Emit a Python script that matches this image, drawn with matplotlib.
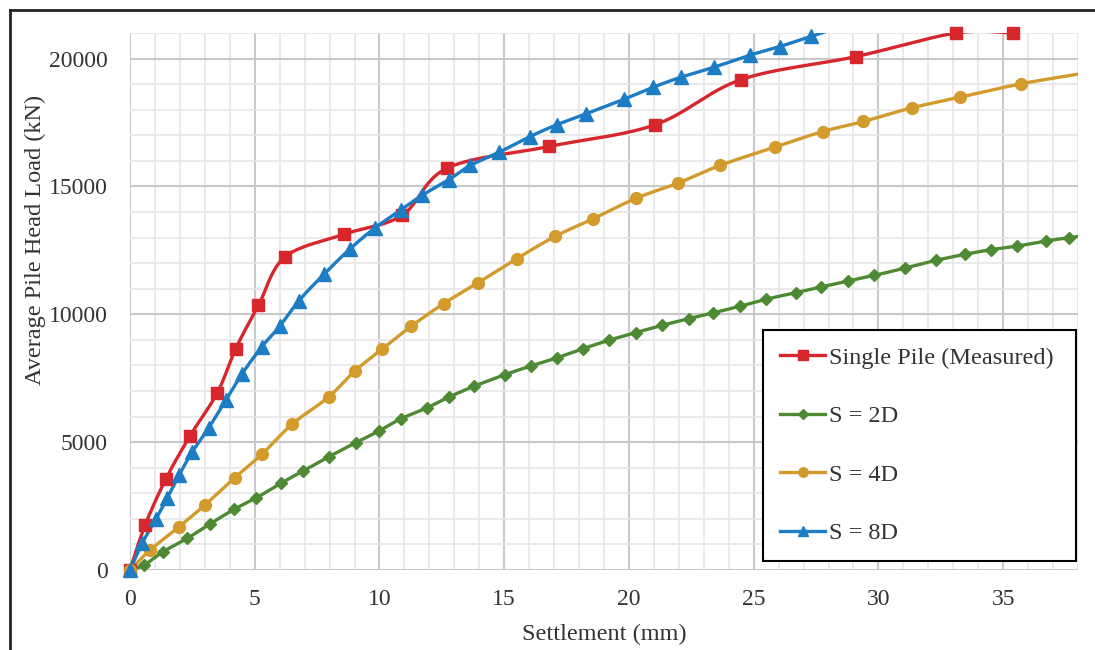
import numpy as np
import matplotlib
matplotlib.use("Agg")
import matplotlib.pyplot as plt
from matplotlib.lines import Line2D

plt.rcParams['font.family'] = ['Liberation Serif', 'DejaVu Serif']

# ---- data (settlement mm, load kN) ----
single_x = [0, 0.6, 1.44, 2.4, 3.5, 4.24, 5.15, 6.21, 8.57, 10.9, 12.72, 16.8, 21.04, 24.5, 29.1, 33.1, 35.4]
single_y = [0, 1740, 3560, 5234, 6930, 8660, 10352, 12240, 13125, 13867, 15720, 16563, 17410, 19180, 20078, 21000, 21000]

s2d_x = [0, 0.57, 1.33, 2.3, 3.2, 4.17, 5.07, 6.04, 6.95, 7.97, 9.04, 9.97, 10.85, 11.9, 12.8, 13.8, 15.04,
         16.08, 17.1, 18.17, 19.2, 20.27, 21.34, 22.4, 23.37, 24.44, 25.5, 26.7, 27.7, 28.8, 29.84, 31.08,
         32.3, 33.46, 34.5, 35.57, 36.7, 37.63, 38.6]
s2d_y = [0, 195, 716, 1237, 1797, 2370, 2826, 3385, 3880, 4427, 4974, 5430, 5910, 6341, 6771, 7188, 7643,
         7982, 8294, 8659, 8984, 9284, 9570, 9830, 10052, 10312, 10590, 10846, 11068, 11302, 11523, 11810,
         12109, 12343, 12526, 12669, 12864, 12995, 13110]

s4d_x = [0, 0.81, 1.97, 3.0, 4.2, 5.28, 6.5, 7.97, 9.0, 10.1, 11.27, 12.57, 13.93, 15.5, 17.04, 18.57,
         20.3, 21.97, 23.64, 25.84, 27.77, 29.4, 31.33, 33.27, 35.7, 38.3]
s4d_y = [0, 781, 1692, 2539, 3607, 4518, 5703, 6771, 7773, 8633, 9531, 10417, 11223, 12175, 13047, 13737,
         14543, 15130, 15820, 16536, 17148, 17540, 18073, 18490, 19010, 19440]

s8d_x = [0, 0.5, 1.04, 1.5, 1.97, 2.48, 3.15, 3.84, 4.5, 5.28, 6.0, 6.77, 7.77, 8.8, 9.81, 10.87, 11.7,
         12.77, 13.64, 14.8, 16.04, 17.1, 18.28, 19.8, 20.97, 22.08, 23.4, 24.87, 26.04, 27.3, 28.5]
s8d_y = [0, 1066, 1992, 2825, 3711, 4596, 5547, 6641, 7682, 8724, 9531, 10530, 11560, 12540, 13370, 14090,
         14650, 15260, 15820, 16340, 16953, 17410, 17840, 18410, 18880, 19270, 19660, 20140, 20470, 20870, 21250]

labels = ['Single Pile (Measured)', 'S = 2D', 'S = 4D', 'S = 8D']
colors = ['#D7262C', '#4E8A33', '#D39A2C', '#1C7CC4']
markers = ['s', 'D', 'o', '^']
msizes = [8.5, 6.5, 8.5, 9.5]

x_ticks = [0, 5, 10, 15, 20, 25, 30, 35]
y_ticks = [0, 5000, 10000, 15000, 20000]
x_lim = (0, 38)
y_lim = (0, 21000)


def smooth(x, y, n=20):
    """Excel-style smoothed line (Bezier through the points)."""
    x = np.asarray(x, float)
    y = np.asarray(y, float)
    P = np.column_stack([x, y])
    out = [P[0]]
    for i in range(len(P) - 1):
        p0 = P[i - 1] if i > 0 else P[i]
        p1 = P[i]
        p2 = P[i + 1]
        p3 = P[i + 2] if i + 2 < len(P) else P[i + 1]
        b1 = p1 + (p2 - p0) / 6.0
        b2 = p2 - (p3 - p1) / 6.0
        t = np.linspace(0, 1, n)[1:, None]
        seg = ((1 - t) ** 3) * p1 + 3 * ((1 - t) ** 2) * t * b1 + 3 * (1 - t) * t ** 2 * b2 + t ** 3 * p2
        out.extend(seg)
    out = np.array(out)
    return out[:, 0], out[:, 1]


fig = plt.figure(figsize=(10.95, 6.5), dpi=100)
ax = fig.add_axes([0.1187, 0.1231, 0.8658, 0.8261])

series = [(single_x, single_y), (s2d_x, s2d_y), (s4d_x, s4d_y), (s8d_x, s8d_y)]
order = [1, 2, 0, 3]
for i in order:
    xs, ys = series[i]
    sx, sy = smooth(xs, ys)
    ax.plot(sx, sy, color=colors[i], lw=2.4, zorder=3 + i * 0.1, solid_capstyle='round')
    xs_a = np.asarray(xs, float)
    ys_a = np.asarray(ys, float)
    m = (xs_a <= x_lim[1]) & (ys_a <= y_lim[1])
    ax.plot(xs_a[m], ys_a[m], linestyle='none', marker=markers[i], ms=msizes[i],
            color=colors[i], mec=colors[i], clip_on=False, zorder=4 + i * 0.1)

ax.set_xlim(*x_lim)
ax.set_ylim(*y_lim)
ax.set_xticks(x_ticks)
ax.set_yticks(y_ticks)
ax.set_xticks(np.arange(0, 39, 1), minor=True)
ax.set_yticks(np.arange(0, 21001, 1000), minor=True)
ax.grid(which='major', color='#C9C9C9', lw=1.5, zorder=1)
ax.grid(which='minor', color='#E6E6E6', lw=1.2, zorder=0.5)
ax.set_axisbelow(True)
for s in ax.spines.values():
    s.set_visible(False)
ax.tick_params(which='both', length=0)
ax.tick_params(axis='x', pad=14, labelsize=17, labelcolor='#333333')
ax.tick_params(axis='y', pad=16, labelsize=17, labelcolor='#333333')

ax.set_xlabel('Settlement (mm)', fontsize=17.5, color='#333333')
ax.xaxis.set_label_coords(0.5, -0.100)
ax.set_ylabel('Average Pile Head Load (kN)', fontsize=17.5, color='#333333')
ax.yaxis.set_label_coords(-0.089, 0.615)

handles = [Line2D([], [], color=colors[i], lw=2.4, marker=markers[i], ms=msizes[i] * 0.8,
                  mec=colors[i]) for i in range(4)]
leg = ax.legend(handles, labels, loc='upper left', bbox_to_anchor=(0.668, 0.024, 0.33, 0.423),
                mode='expand', fontsize=17.5, frameon=True, fancybox=False, edgecolor='black',
                framealpha=1, handlelength=1.85, handletextpad=0.15, labelspacing=1.5,
                borderpad=0.7, borderaxespad=0)
leg.get_frame().set_linewidth(1.5)
leg.set_zorder(20)
for t in leg.get_texts():
    t.set_color('#333333')

# outer frame (left and top edges)
fig.add_artist(Line2D([10 / 1095, 10 / 1095], [0, 1 - 10 / 650], color='#222222', lw=2,
                      transform=fig.transFigure))
fig.add_artist(Line2D([10 / 1095, 1], [1 - 10 / 650, 1 - 10 / 650], color='#222222', lw=2,
                      transform=fig.transFigure))

fig.savefig('out.png', dpi=100, facecolor='white')
